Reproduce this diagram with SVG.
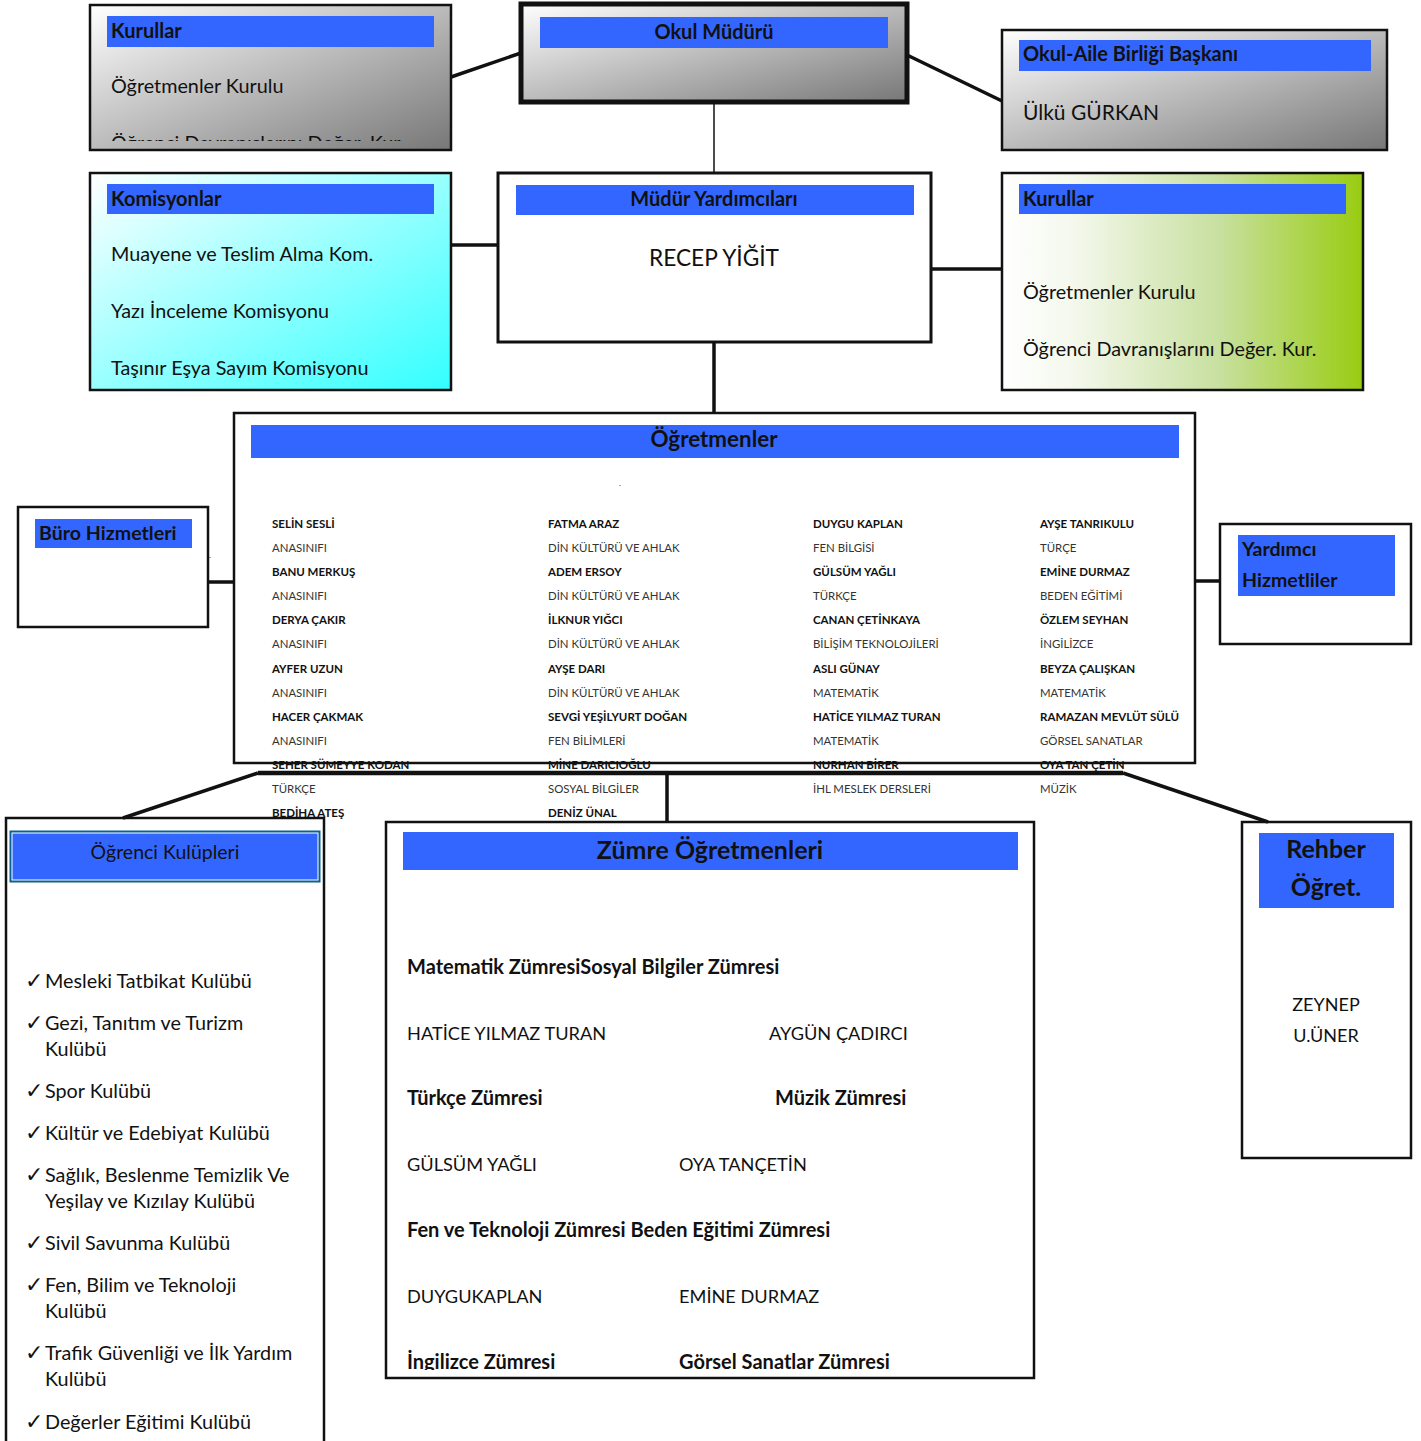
<svg xmlns="http://www.w3.org/2000/svg" width="1421" height="1441" viewBox="0 0 1421 1441">
<defs>
<linearGradient id="gGray" x1="0" y1="0" x2="1" y2="1">
<stop offset="0" stop-color="#ffffff"/><stop offset="1" stop-color="#777777"/>
</linearGradient>
<linearGradient id="gCyan" x1="0" y1="0" x2="1" y2="1">
<stop offset="0" stop-color="#ffffff"/><stop offset="0.75" stop-color="#66ffff"/><stop offset="1" stop-color="#33ffff"/>
</linearGradient>
<linearGradient id="gGreen" x1="0" y1="0" x2="1" y2="0">
<stop offset="0" stop-color="#ffffff"/><stop offset="0.2" stop-color="#f4f8ec"/><stop offset="0.6" stop-color="#c8e0a0"/><stop offset="1" stop-color="#99cc11"/>
</linearGradient>
<clipPath id="clipK1"><rect x="90" y="5" width="361" height="136"/></clipPath>
<clipPath id="clipZ"><rect x="386" y="822" width="648" height="548"/></clipPath>
<style>
text{font-family:Lato,"Open Sans","Liberation Sans",sans-serif;fill:#111;}
.box{stroke:#111;stroke-width:2.5;fill:#fff;}
.hdr{fill:#3366ff;}
.hb{font-weight:bold;font-size:20px;}
.t19{font-size:19.8px;}
.tn{font-size:11.5px;font-weight:bold;}
.ts{font-size:11.4px;fill:#333;}
.zb{font-size:20px;font-weight:bold;}
.zr{font-size:18.2px;}
.ck{font-family:"DejaVu Sans",sans-serif;font-size:22px;}
.conn{stroke:#111;fill:none;}
</style>
</defs>

<g id="ogretmenler">
<rect class="box" x="234" y="413" width="961" height="350"/>
<rect class="hdr" x="251" y="425" width="928" height="33"/>
<text x="714" y="447" text-anchor="middle" font-size="22.4" font-weight="bold">Öğretmenler</text>
<text x="619" y="486" font-size="8">.</text>
<g class="col1">
<text class="tn" x="272" y="528">SELİN SESLİ</text>
<text class="ts" x="272" y="552">ANASINIFI</text>
<text class="tn" x="272" y="576">BANU MERKUŞ</text>
<text class="ts" x="272" y="600">ANASINIFI</text>
<text class="tn" x="272" y="624">DERYA ÇAKIR</text>
<text class="ts" x="272" y="648">ANASINIFI</text>
<text class="tn" x="272" y="673">AYFER UZUN</text>
<text class="ts" x="272" y="697">ANASINIFI</text>
<text class="tn" x="272" y="721">HACER ÇAKMAK</text>
<text class="ts" x="272" y="745">ANASINIFI</text>
<text class="tn" x="272" y="769">SEHER SÜMEYYE KODAN</text>
<text class="ts" x="272" y="793">TÜRKÇE</text>
<text class="tn" x="272" y="817">BEDİHA ATEŞ</text>
</g>
<g class="col2">
<text class="tn" x="548" y="528">FATMA ARAZ</text>
<text class="ts" x="548" y="552">DİN KÜLTÜRÜ VE AHLAK</text>
<text class="tn" x="548" y="576">ADEM ERSOY</text>
<text class="ts" x="548" y="600">DİN KÜLTÜRÜ VE AHLAK</text>
<text class="tn" x="548" y="624">İLKNUR YIĞCI</text>
<text class="ts" x="548" y="648">DİN KÜLTÜRÜ VE AHLAK</text>
<text class="tn" x="548" y="673">AYŞE DARI</text>
<text class="ts" x="548" y="697">DİN KÜLTÜRÜ VE AHLAK</text>
<text class="tn" x="548" y="721">SEVGİ YEŞİLYURT DOĞAN</text>
<text class="ts" x="548" y="745">FEN BİLİMLERİ</text>
<text class="tn" x="548" y="769">MİNE DARICIOĞLU</text>
<text class="ts" x="548" y="793">SOSYAL BİLGİLER</text>
<text class="tn" x="548" y="817">DENİZ ÜNAL</text>
</g>
<g class="col3">
<text class="tn" x="813" y="528">DUYGU KAPLAN</text>
<text class="ts" x="813" y="552">FEN BİLGİSİ</text>
<text class="tn" x="813" y="576">GÜLSÜM YAĞLI</text>
<text class="ts" x="813" y="600">TÜRKÇE</text>
<text class="tn" x="813" y="624">CANAN ÇETİNKAYA</text>
<text class="ts" x="813" y="648">BİLİŞİM TEKNOLOJİLERİ</text>
<text class="tn" x="813" y="673">ASLI GÜNAY</text>
<text class="ts" x="813" y="697">MATEMATİK</text>
<text class="tn" x="813" y="721">HATİCE YILMAZ TURAN</text>
<text class="ts" x="813" y="745">MATEMATİK</text>
<text class="tn" x="813" y="769">NURHAN BİRER</text>
<text class="ts" x="813" y="793">İHL MESLEK DERSLERİ</text>
</g>
<g class="col4">
<text class="tn" x="1040" y="528">AYŞE TANRIKULU</text>
<text class="ts" x="1040" y="552">TÜRÇE</text>
<text class="tn" x="1040" y="576">EMİNE DURMAZ</text>
<text class="ts" x="1040" y="600">BEDEN EĞİTİMİ</text>
<text class="tn" x="1040" y="624">ÖZLEM SEYHAN</text>
<text class="ts" x="1040" y="648">İNGİLİZCE</text>
<text class="tn" x="1040" y="673">BEYZA ÇALIŞKAN</text>
<text class="ts" x="1040" y="697">MATEMATİK</text>
<text class="tn" x="1040" y="721">RAMAZAN MEVLÜT SÜLÜ</text>
<text class="ts" x="1040" y="745">GÖRSEL SANATLAR</text>
<text class="tn" x="1040" y="769">OYA TAN ÇETİN</text>
<text class="ts" x="1040" y="793">MÜZİK</text>
</g>
</g>

<g id="kurullar-sol">
<rect class="box" x="90" y="5" width="361" height="145" style="fill:url(#gGray)"/>
<rect class="hdr" x="107" y="16" width="327" height="31"/>
<text class="hb" x="111" y="38">Kurullar</text>
<g clip-path="url(#clipK1)">
<text class="t19" x="111" y="93">Öğretmenler Kurulu</text>
<text class="t19" x="111" y="150">Öğrenci Davranışlarını Değer. Kur.</text>
</g>
</g>

<g id="okul-muduru">
<rect x="521" y="4" width="386" height="98" style="fill:url(#gGray);stroke:#111;stroke-width:5"/>
<rect class="hdr" x="540" y="17" width="348" height="31"/>
<text class="hb" x="714" y="39" text-anchor="middle">Okul Müdürü</text>
</g>

<g id="okul-aile">
<rect class="box" x="1002" y="30" width="385" height="120" style="fill:url(#gGray)"/>
<rect class="hdr" x="1019" y="40" width="352" height="31"/>
<text class="hb" x="1023" y="61">Okul-Aile Birliği Başkanı</text>
<text x="1023" y="120" font-size="21">Ülkü GÜRKAN</text>
</g>

<g id="komisyonlar">
<rect class="box" x="90" y="173" width="361" height="217" style="fill:url(#gCyan)"/>
<rect class="hdr" x="107" y="184" width="327" height="30"/>
<text class="hb" x="111" y="206">Komisyonlar</text>
<text class="t19" x="111" y="261">Muayene ve Teslim Alma Kom.</text>
<text class="t19" x="111" y="318">Yazı İnceleme Komisyonu</text>
<text class="t19" x="111" y="375">Taşınır Eşya Sayım Komisyonu</text>
</g>

<g id="mudur-yardimcilari">
<rect x="498" y="173" width="433" height="169" style="fill:#fff;stroke:#111;stroke-width:3"/>
<rect class="hdr" x="516" y="185" width="398" height="30"/>
<text class="hb" x="714" y="206" text-anchor="middle">Müdür Yardımcıları</text>
<text x="714" y="266" font-size="22.7" text-anchor="middle">RECEP YİĞİT</text>
</g>

<g id="kurullar-sag">
<rect class="box" x="1002" y="173" width="361" height="217" style="fill:url(#gGreen)"/>
<rect class="hdr" x="1019" y="184" width="327" height="30"/>
<text class="hb" x="1023" y="206">Kurullar</text>
<text class="t19" x="1023" y="299">Öğretmenler Kurulu</text>
<text class="t19" x="1023" y="356">Öğrenci Davranışlarını Değer. Kur.</text>
</g>

<g id="buro-hizmetleri">
<rect class="box" x="18" y="507" width="190" height="120"/>
<rect class="hdr" x="35" y="519" width="157" height="29"/>
<text class="hb" x="39" y="540" style="font-size:19.6px">Büro Hizmetleri</text>
<text x="209" y="558" font-size="8">.</text>
</g>

<g id="yardimci-hizmetliler">
<rect class="box" x="1220" y="524" width="191" height="120"/>
<rect class="hdr" x="1238" y="535" width="157" height="61"/>
<text class="hb" x="1242" y="556" style="font-size:19.6px">Yardımcı</text>
<text class="hb" x="1242" y="587" style="font-size:19.6px">Hizmetliler</text>
</g>

<g id="ogrenci-kulupleri">
<rect class="box" x="6" y="818" width="318" height="630"/>
<rect x="9.5" y="830.5" width="311" height="52" style="fill:#0b6196"/>
<rect x="12" y="833" width="306" height="47" style="fill:#3366ff;stroke:#fff;stroke-width:1"/>
<text x="165" y="859" font-size="19.5" text-anchor="middle">Öğrenci Kulüpleri</text>
<text class="ck" x="25" y="988">✓</text><text class="t19" x="45" y="988">Mesleki Tatbikat Kulübü</text>
<text class="ck" x="25" y="1030">✓</text><text class="t19" x="45" y="1030">Gezi, Tanıtım ve Turizm</text>
<text class="t19" x="45" y="1056">Kulübü</text>
<text class="ck" x="25" y="1098">✓</text><text class="t19" x="45" y="1098">Spor Kulübü</text>
<text class="ck" x="25" y="1140">✓</text><text class="t19" x="45" y="1140">Kültür ve Edebiyat Kulübü</text>
<text class="ck" x="25" y="1182">✓</text><text class="t19" x="45" y="1182">Sağlık, Beslenme Temizlik Ve</text>
<text class="t19" x="45" y="1208">Yeşilay ve Kızılay Kulübü</text>
<text class="ck" x="25" y="1250">✓</text><text class="t19" x="45" y="1250">Sivil Savunma Kulübü</text>
<text class="ck" x="25" y="1292">✓</text><text class="t19" x="45" y="1292">Fen, Bilim ve Teknoloji</text>
<text class="t19" x="45" y="1318">Kulübü</text>
<text class="ck" x="25" y="1360">✓</text><text class="t19" x="45" y="1360">Trafik Güvenliği ve İlk Yardım</text>
<text class="t19" x="45" y="1386">Kulübü</text>
<text class="ck" x="25" y="1429">✓</text><text class="t19" x="45" y="1429">Değerler Eğitimi Kulübü</text>
</g>

<g id="zumre-ogretmenleri">
<rect class="box" x="386" y="822" width="648" height="556"/>
<rect class="hdr" x="403" y="832" width="615" height="38"/>
<text x="710" y="859" font-size="25" font-weight="bold" text-anchor="middle">Zümre Öğretmenleri</text>
<g clip-path="url(#clipZ)">
<text class="zb" x="407" y="974">Matematik ZümresiSosyal Bilgiler Zümresi</text>
<text class="zr" x="407" y="1040">HATİCE YILMAZ TURAN</text>
<text class="zr" x="769" y="1040">AYGÜN ÇADIRCI</text>
<text class="zb" x="407" y="1105">Türkçe Zümresi</text>
<text class="zb" x="775" y="1105">Müzik Zümresi</text>
<text class="zr" x="407" y="1171">GÜLSÜM YAĞLI</text>
<text class="zr" x="679" y="1171">OYA TANÇETİN</text>
<text class="zb" x="407" y="1237">Fen ve Teknoloji Zümresi Beden Eğitimi Zümresi</text>
<text class="zr" x="407" y="1303">DUYGUKAPLAN</text>
<text class="zr" x="679" y="1303">EMİNE DURMAZ</text>
<text class="zb" x="407" y="1369">İngilizce Zümresi</text>
<text class="zb" x="679" y="1369">Görsel Sanatlar Zümresi</text>
</g>
</g>

<g id="rehber">
<rect class="box" x="1242" y="822" width="169" height="336"/>
<rect class="hdr" x="1259" y="833" width="135" height="75"/>
<text x="1326" y="858" font-size="25" font-weight="bold" text-anchor="middle">Rehber</text>
<text x="1326" y="896" font-size="25" font-weight="bold" text-anchor="middle">Öğret.</text>
<text x="1326" y="1011" font-size="18" text-anchor="middle">ZEYNEP</text>
<text x="1326" y="1042" font-size="18" text-anchor="middle">U.ÜNER</text>
</g>

<g id="connectors">
<line class="conn" x1="451" y1="77" x2="521" y2="53" stroke-width="3.5"/>
<line class="conn" x1="907" y1="55" x2="1002" y2="101" stroke-width="3.5"/>
<line class="conn" x1="714" y1="103" x2="714" y2="172" stroke-width="1.5"/>
<line class="conn" x1="451" y1="245" x2="498" y2="245" stroke-width="3.5"/>
<line class="conn" x1="931" y1="269" x2="1002" y2="269" stroke-width="3.5"/>
<line class="conn" x1="714" y1="342" x2="714" y2="413" stroke-width="3.5"/>
<line class="conn" x1="208" y1="582" x2="234" y2="582" stroke-width="3.5"/>
<line class="conn" x1="1195" y1="581" x2="1220" y2="581" stroke-width="3.5"/>
<line class="conn" x1="258" y1="773" x2="1123" y2="773" stroke-width="4.5"/>
<line class="conn" x1="258" y1="773" x2="123" y2="818" stroke-width="3.5"/>
<line class="conn" x1="1123" y1="773" x2="1268" y2="822" stroke-width="3.5"/>
<line class="conn" x1="667" y1="773" x2="667" y2="822" stroke-width="3.5"/>
</g>
</svg>
